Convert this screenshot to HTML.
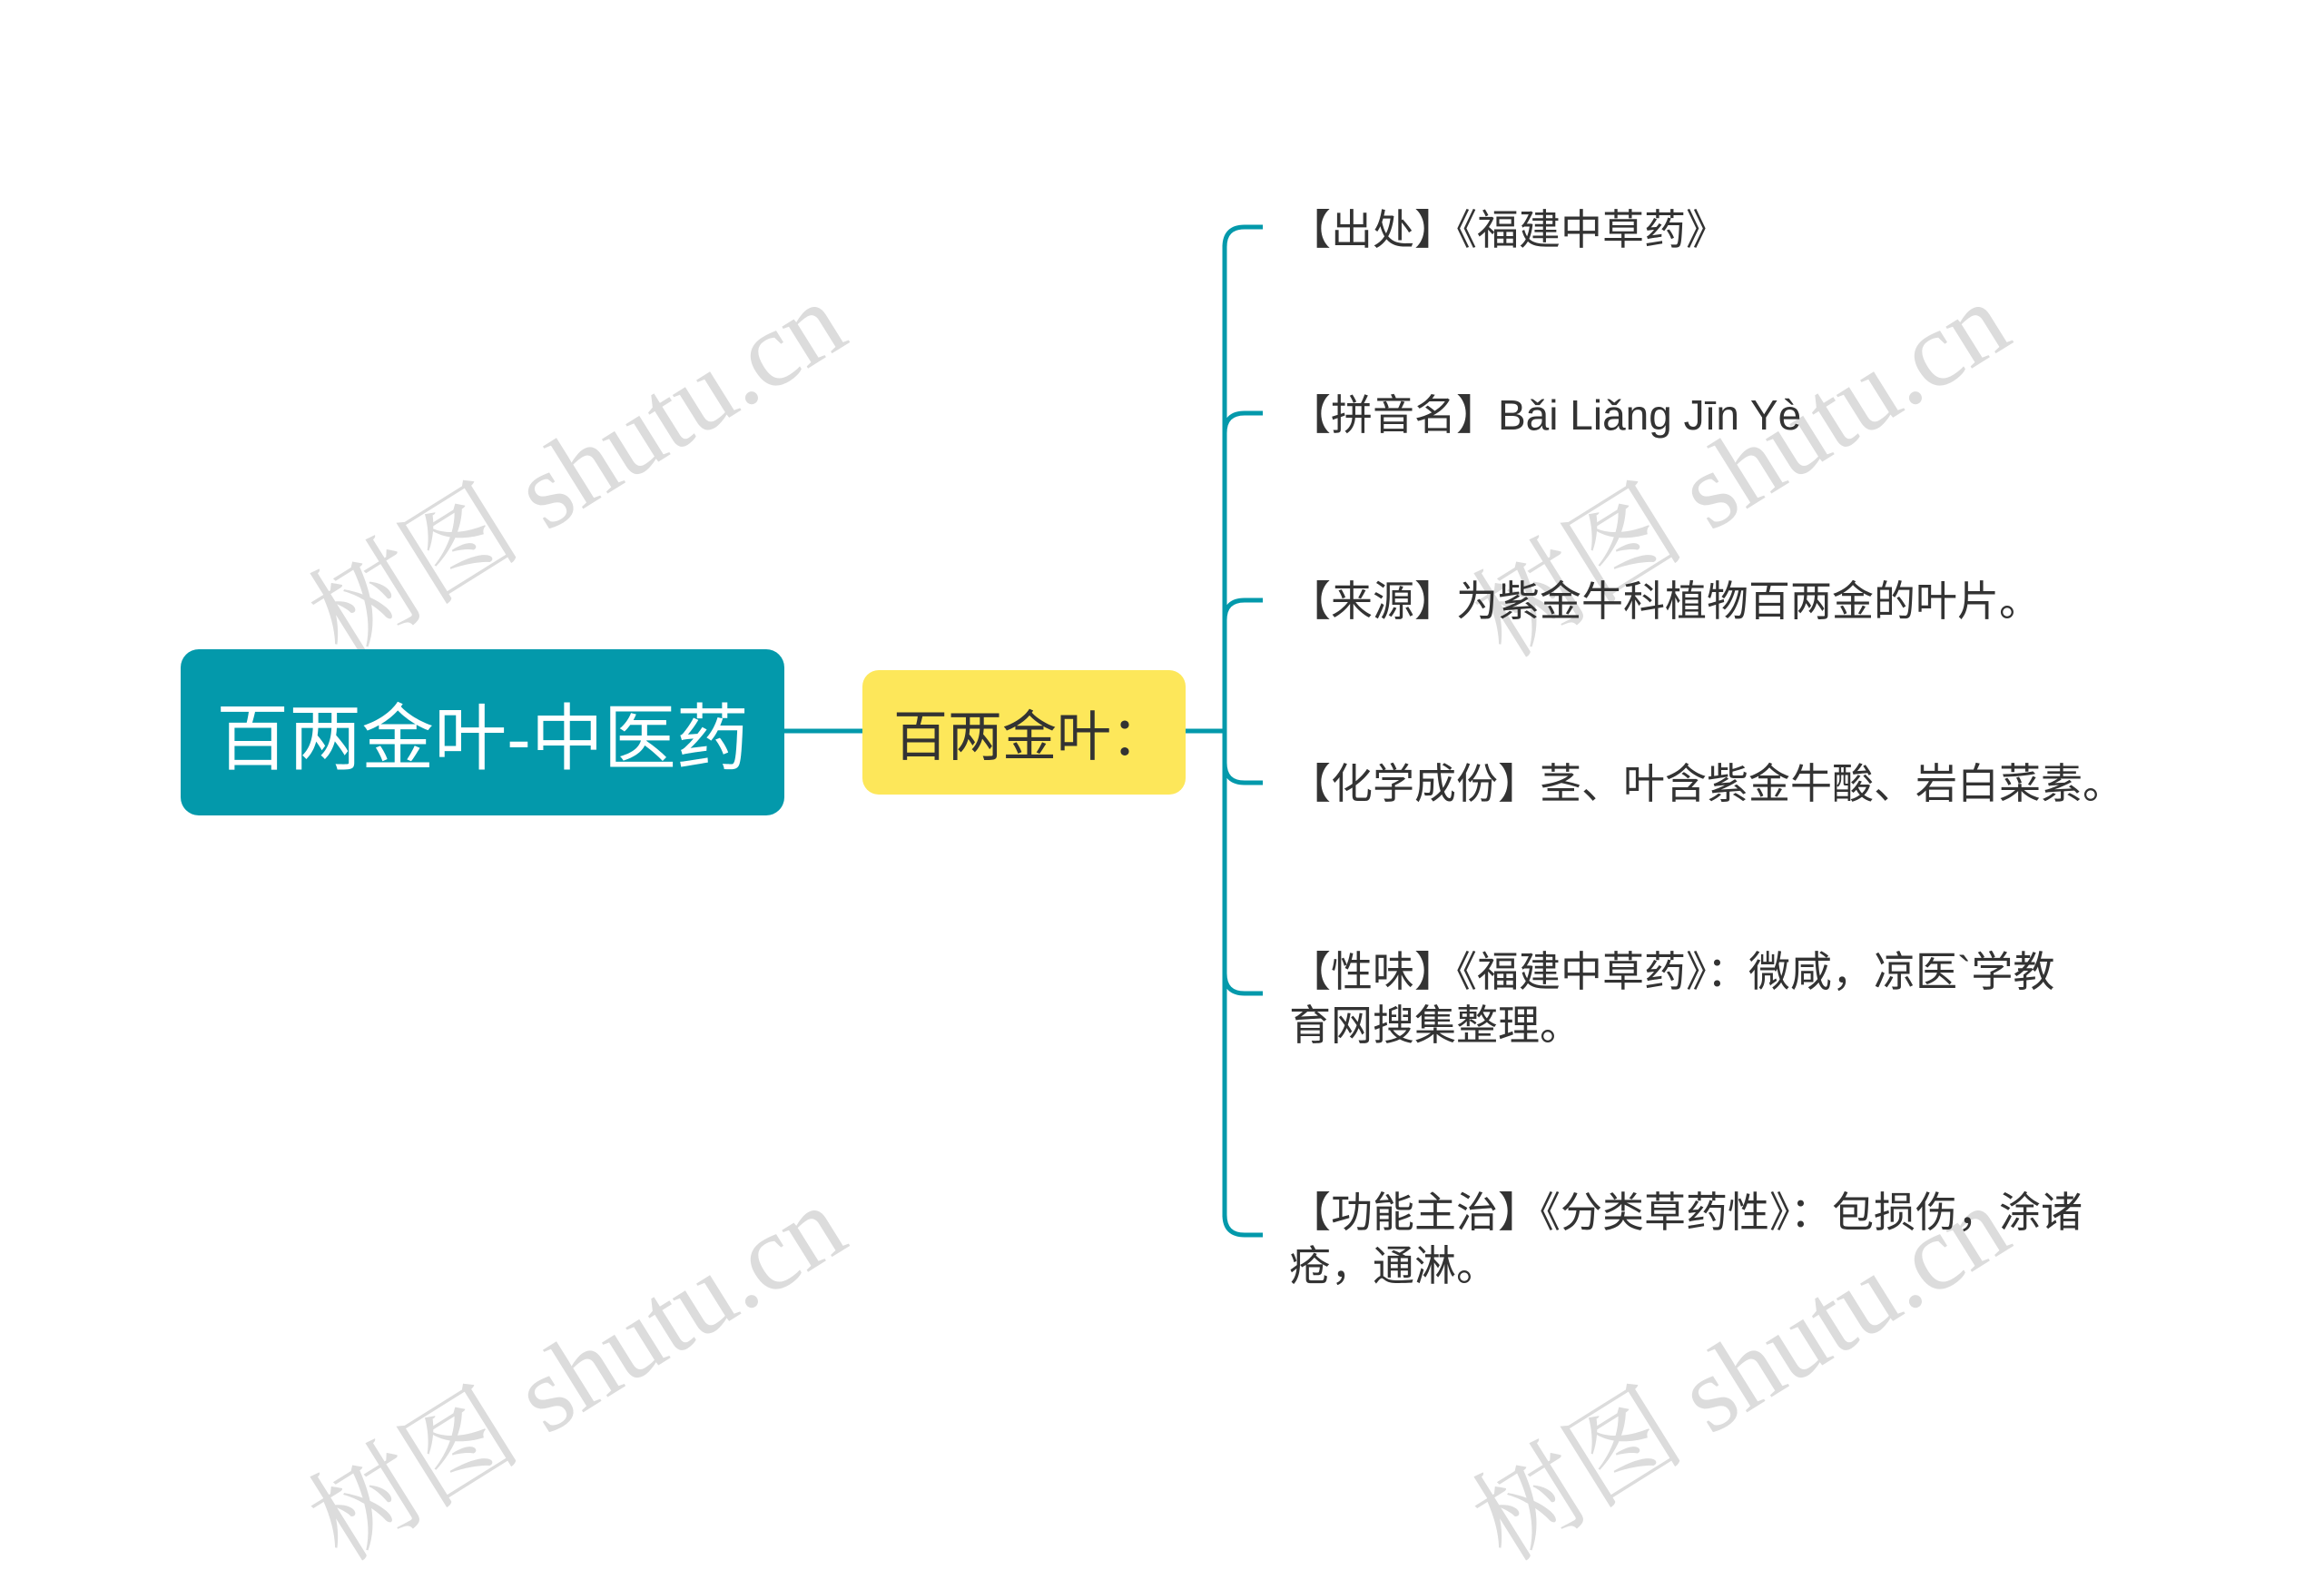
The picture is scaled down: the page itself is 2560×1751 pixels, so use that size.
<!DOCTYPE html>
<html><head><meta charset="utf-8"><style>
html,body{margin:0;padding:0;background:#fff;}
body{width:2560px;height:1642px;position:relative;overflow:hidden;font-family:"Liberation Sans","Noto Sans CJK SC",sans-serif;}
.wm{position:absolute;font-family:"Liberation Serif","Noto Serif CJK SC",serif;font-size:118px;color:#dcdcdc;white-space:nowrap;transform:translate(-50%,-50%) rotate(-32deg);}
.root{position:absolute;left:199px;top:715px;width:665px;height:183px;background:#0399ab;border-radius:20px;color:#fff;font-size:80px;display:flex;align-items:center;justify-content:center;}
.sub{position:absolute;left:950px;top:738px;width:322px;padding-left:34px;height:137px;background:#fde75a;border-radius:18px;color:#333;font-size:60px;display:flex;align-items:center;}
.t{position:absolute;left:1420px;font-size:46px;color:#333;white-space:nowrap;line-height:59px;}
</style></head><body>
<div class="wm" style="left:630px;top:508px">树图 shutu.cn</div>
<div class="wm" style="left:1912px;top:508px">树图 shutu.cn</div>
<div class="wm" style="left:630px;top:1503px">树图 shutu.cn</div>
<div class="wm" style="left:1912px;top:1503px">树图 shutu.cn</div>
<svg width="2560" height="1642" style="position:absolute;left:0;top:0" fill="none" stroke="#0399ab" stroke-width="5">
<line x1="864" y1="805" x2="950" y2="805"/>
<line x1="1306" y1="805" x2="1349" y2="805"/>
<path d="M1349 270 L1349 1340"/>
<path d="M1349 272 Q1349 250 1371 250 L1391 250"/>
<path d="M1349 477 Q1349 455 1371 455 L1391 455"/>
<path d="M1349 683 Q1349 661 1371 661 L1391 661"/>
<path d="M1349 840 Q1349 862 1371 862 L1391 862"/>
<path d="M1349 1072 Q1349 1094 1371 1094 L1391 1094"/>
<path d="M1349 1338 Q1349 1360 1371 1360 L1391 1360"/>
</svg>
<div class="root">百两金叶-中医药</div>
<div class="sub">百两金叶：</div>
<div class="t" style="top:224px">【出处】《福建中草药》</div>
<div class="t" style="top:428px">【拼音名】Bǎi Liǎng Jīn Yè</div>
<div class="t" style="top:633px">【来源】为紫金牛科植物百两金的叶片。</div>
<div class="t" style="top:834px">【化学成份】茎、叶含紫金牛酸、岩白菜素。</div>
<div class="t" style="top:1041px">【性味】《福建中草药》：微咸，凉医`学教<br>育网搜集整理。</div>
<div class="t" style="top:1306px">【功能主治】《分类草药性》：包损伤，涂诸<br>疮，通淋。</div>
</body></html>
